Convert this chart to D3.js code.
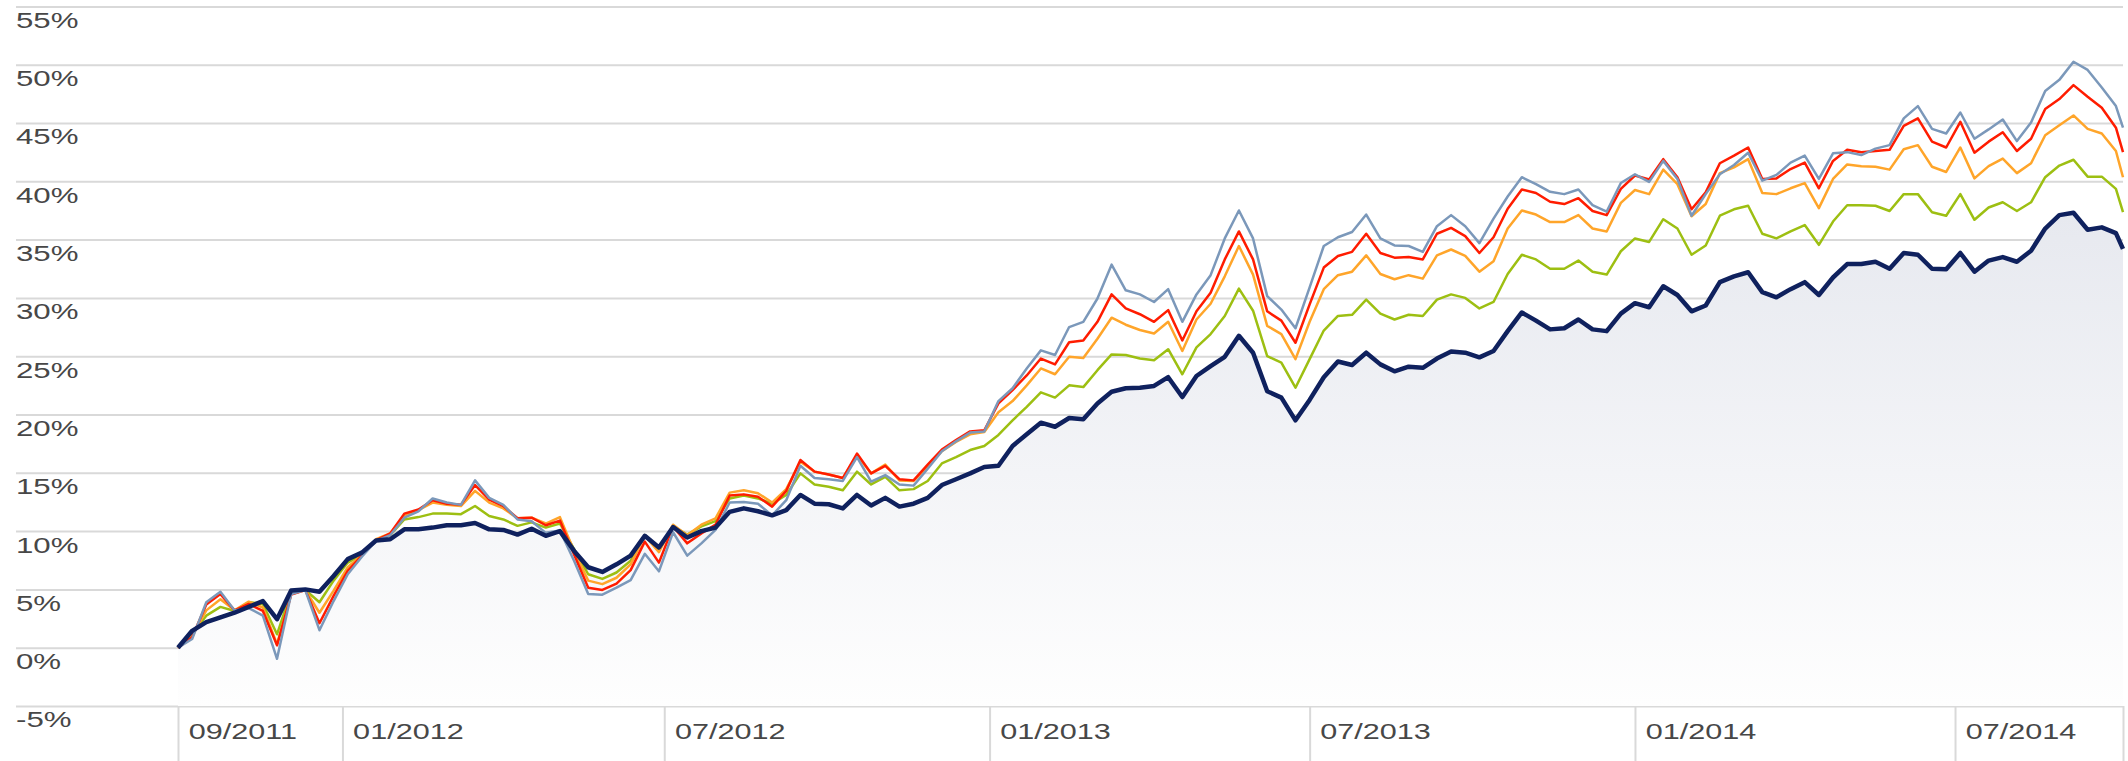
<!DOCTYPE html>
<html>
<head>
<meta charset="utf-8">
<script src="https://cdn.jsdelivr.net/npm/d3@7"></script>
<style>
  body { margin: 0; background: #fff; }
  svg { display: block; font-family: Roboto, "Noto Sans", sans-serif; }
</style>
</head>
<body>
<svg id="chart"></svg>
<script>
// x: one point every 8 days from the start, plus a last short step
const firstDate = "2011-09-30";
const stepDays = 8;
const lastDate = "2014-10-04";
const tickDates = ["2011-09-30", "2012-01-01", "2012-07-01", "2013-01-01", "2013-07-01", "2014-01-01", "2014-07-01"];
const yTicks = [-5, 0, 5, 10, 15, 20, 25, 30, 35, 40, 45, 50, 55];

// cumulative performance, %
const navy = [
  0, 1.45, 2.2, 2.6, 3.0, 3.5, 4.0, 2.45, 4.9, 5.0, 4.8, 6.15, 7.6, 8.15, 9.2, 9.3, 10.15, 10.15, 10.3, 10.5,
  10.5, 10.7, 10.15, 10.1, 9.7, 10.2, 9.6, 10.0, 8.3, 6.9, 6.5, 7.15, 7.9, 9.6, 8.6, 10.35,
  9.45, 10.0, 10.3, 11.65, 11.95, 11.7, 11.35, 11.8, 13.1, 12.35, 12.3, 11.95, 13.1, 12.2, 12.85, 12.1, 12.35, 12.85, 13.95, 14.45,
  14.95, 15.5, 15.6, 17.3, 18.3, 19.3, 18.95, 19.7, 19.6, 20.95, 21.95, 22.25, 22.3,
  22.45, 23.2, 21.5, 23.3, 24.15, 24.95, 26.75, 25.3, 22.0, 21.45, 19.5, 21.25, 23.2, 24.55, 24.25, 25.3, 24.3, 23.7, 24.1, 24.0,
  24.8, 25.4, 25.3, 24.9, 25.45, 27.15, 28.75, 28.05, 27.3, 27.4, 28.15, 27.3, 27.15, 28.65, 29.55,
  29.2, 31.0, 30.25, 28.85, 29.35, 31.35, 31.85, 32.2, 30.5, 30.05, 30.75, 31.35, 30.25, 31.75, 32.9, 32.9, 33.1, 32.5, 33.85, 33.7,
  32.5, 32.45, 33.85, 32.25, 33.2, 33.5, 33.1, 34.05, 35.95, 37.1, 37.3, 35.85, 36.05, 35.55, 34.2
];
const steel = [
  0, 0.75, 3.9, 4.8, 3.2, 3.4, 2.75, -0.95, 4.6, 4.95, 1.5, 4.0, 6.3, 7.8, 9.15, 9.65, 11.15, 11.7, 12.8, 12.45,
  12.25, 14.35, 12.85, 12.25, 11.0, 10.85, 9.85, 10.05, 7.45, 4.6, 4.55, 5.15, 5.8, 8.05, 6.55, 9.9,
  7.9, 8.95, 10.1, 12.45, 12.5, 12.35, 11.35, 12.65, 15.6, 14.55, 14.45, 14.3, 16.35, 14.25, 14.8, 14.0, 13.9, 15.35, 16.85, 17.7,
  18.45, 18.55, 21.15, 22.25, 23.95, 25.5, 25.1, 27.5, 27.95, 29.95, 32.85, 30.65, 30.3,
  29.65, 30.75, 27.95, 30.3, 31.95, 35.1, 37.5, 35.1, 30.15, 29.0, 27.4, 30.9, 34.45, 35.2, 35.65, 37.15, 35.1, 34.5, 34.45, 33.95,
  36.15, 37.1, 36.15, 34.7, 36.8, 38.7, 40.35, 39.75, 39.1, 38.9, 39.3, 37.95, 37.4, 39.85, 40.6,
  39.95, 41.75, 40.2, 37.05, 38.9, 40.6, 41.4, 42.45, 40.05, 40.55, 41.6, 42.2, 40.2, 42.4, 42.5, 42.25, 42.8, 43.1, 45.4, 46.45,
  44.5, 44.1, 45.9, 43.65, 44.45, 45.3, 43.45, 45.05, 47.75, 48.7, 50.25, 49.55, 48.05, 46.45, 44.6
];
const red = [
  0, 0.9, 3.7, 4.6, 3.2, 3.75, 3.15, 0.2, 4.55, 4.95, 2.1, 4.45, 6.6, 7.9, 9.2, 9.8, 11.5, 11.85, 12.65, 12.35,
  12.25, 13.95, 12.7, 12.15, 11.1, 11.15, 10.5, 10.9, 8.0, 5.15, 4.95, 5.5, 6.65, 9.1, 7.3, 10.4,
  8.95, 9.8, 10.55, 13.05, 13.15, 12.95, 12.1, 13.45, 16.1, 15.1, 14.85, 14.55, 16.65, 14.95, 15.6, 14.45, 14.35, 15.7, 17.0, 17.8,
  18.55, 18.65, 20.95, 22.1, 23.35, 24.8, 24.3, 26.2, 26.35, 27.95, 30.3, 29.1, 28.6,
  27.95, 28.95, 26.35, 28.85, 30.45, 33.3, 35.7, 33.3, 28.85, 28.05, 26.15, 29.45, 32.6, 33.6, 33.95, 35.5, 33.85, 33.45, 33.5, 33.3,
  35.5, 36.0, 35.3, 33.85, 35.2, 37.65, 39.3, 39.0, 38.25, 38.05, 38.55, 37.45, 37.1, 39.35, 40.5,
  40.15, 41.9, 40.35, 37.6, 39.05, 41.55, 42.2, 42.9, 40.2, 40.25, 41.05, 41.6, 39.4, 41.75, 42.7, 42.5, 42.6, 42.7, 44.75, 45.4,
  43.4, 42.9, 45.1, 42.45, 43.4, 44.2, 42.6, 43.65, 46.2, 47.05, 48.25, 47.25, 46.3, 44.6, 42.5
];
const orange = [
  0, 1.0, 3.2, 4.15, 3.2, 3.95, 3.45, 0.3, 4.6, 4.95, 3.0, 4.9, 6.9, 7.95, 9.3, 9.8, 11.3, 11.8, 12.45, 12.25,
  12.15, 13.45, 12.45, 11.95, 11.1, 11.15, 10.65, 11.2, 8.3, 5.75, 5.45, 6.0, 7.15, 9.6, 8.2, 10.55,
  9.65, 10.55, 11.1, 13.3, 13.5, 13.25, 12.45, 13.6, 15.95, 15.1, 14.85, 14.55, 16.5, 14.95, 15.7, 14.35, 14.3, 15.5, 16.85, 17.65,
  18.3, 18.5, 20.2, 21.15, 22.5, 23.95, 23.45, 24.95, 24.85, 26.5, 28.3, 27.7, 27.25,
  26.95, 27.95, 25.45, 28.15, 29.5, 31.85, 34.45, 32.0, 27.6, 26.9, 24.75, 27.95, 30.75, 31.95, 32.25, 33.65, 32.05, 31.6, 31.95, 31.65,
  33.65, 34.15, 33.6, 32.25, 33.15, 35.95, 37.5, 37.15, 36.5, 36.5, 37.1, 35.95, 35.7, 38.15, 39.25,
  38.9, 41.0, 39.75, 37.0, 38.05, 40.7, 41.2, 41.9, 39.0, 38.9, 39.4, 39.85, 37.7, 40.2, 41.45, 41.3, 41.25, 41.0, 42.75, 43.1,
  41.25, 40.8, 42.9, 40.25, 41.3, 41.95, 40.7, 41.55, 43.95, 44.8, 45.65, 44.5, 44.1, 42.6, 40.35
];
const green = [
  0, 1.15, 2.75, 3.5, 3.15, 3.9, 3.75, 1.15, 4.8, 4.95, 3.9, 5.75, 7.3, 8.0, 9.2, 9.65, 11.0, 11.2, 11.5, 11.5,
  11.45, 12.15, 11.3, 11.0, 10.45, 10.75, 10.3, 10.65, 8.45, 6.3, 5.9, 6.45, 7.45, 9.65, 8.45, 10.4,
  9.7, 10.4, 10.85, 12.8, 13.05, 12.8, 12.35, 13.1, 14.95, 14.0, 13.8, 13.5, 15.1, 14.0, 14.65, 13.5, 13.6, 14.3, 15.8, 16.35,
  16.95, 17.3, 18.25, 19.5, 20.65, 21.9, 21.45, 22.5, 22.35, 23.8, 25.15, 25.1, 24.8,
  24.65, 25.6, 23.45, 25.75, 26.9, 28.45, 30.8, 28.9, 25.0, 24.45, 22.3, 24.75, 27.2, 28.45, 28.55, 29.85, 28.65, 28.15, 28.55, 28.45,
  29.85, 30.3, 30.0, 29.1, 29.65, 32.05, 33.7, 33.3, 32.5, 32.5, 33.2, 32.25, 32.0, 34.0, 35.1,
  34.8, 36.75, 35.95, 33.7, 34.5, 37.05, 37.6, 37.9, 35.5, 35.1, 35.7, 36.25, 34.55, 36.55, 37.95, 37.95, 37.9, 37.45, 38.9, 38.9,
  37.35, 37.05, 38.9, 36.7, 37.75, 38.2, 37.45, 38.2, 40.35, 41.35, 41.85, 40.4, 40.4, 39.35, 37.35
];

// drawing order: bottom first, navy on top
const series = [
  {values: green, color: '#9dbf12', width: 2.5},
  {values: orange, color: '#ffa52a', width: 2.5},
  {values: red, color: '#ff1c00', width: 2.5},
  {values: steel, color: '#7b98ba', width: 2.5},
  {values: navy, color: '#0f215e', width: 4.5}
];

const width = 2128, height = 761;
const gridLeft = 16, plotLeft = 178, plotRight = 2123;
const yTop = 6.4, yBottom = 706;

const svg = d3.select('#chart').attr('width', width).attr('height', height);

const parse = d3.utcParse('%Y-%m-%d');
const start = parse(firstDate);
const end = parse(lastDate);
const dates = navy.map((_, i) => i === navy.length - 1 ? end : d3.utcDay.offset(start, i * stepDays));

const x = d3.scaleUtc().domain([start, end]).range([plotLeft, plotRight]);
const y = d3.scaleLinear().domain([-5, 55]).range([yBottom, yTop]);

// fill gradient under the navy line
const defs = svg.append('defs');
const grad = defs.append('linearGradient')
    .attr('id', 'areaFill')
    .attr('gradientUnits', 'userSpaceOnUse')
    .attr('x1', 0).attr('x2', 0)
    .attr('y1', y(55)).attr('y2', y(-5));
grad.append('stop').attr('offset', 0).attr('stop-color', '#dde0e9');
grad.append('stop').attr('offset', 1).attr('stop-color', '#fefefe');

// horizontal grid + y labels
const yAxis = d3.axisLeft(y)
    .tickValues(yTicks)
    .tickSize(-(plotRight - gridLeft))
    .tickFormat(d => d + '%');

const gy = svg.append('g')
    .attr('transform', `translate(${gridLeft},0)`)
    .call(yAxis);
gy.select('.domain').remove();
gy.selectAll('.tick line').attr('stroke', '#d9d9d9').attr('stroke-width', 2);
gy.selectAll('.tick text')
    .attr('x', 0)
    .attr('y', 21)
    .attr('dy', null)
    .attr('text-anchor', 'start')
    .attr('transform', 'scale(1.42,1)')
    .attr('fill', '#474747')
    .style('font-size', '22px');

// area + lines
svg.append('path')
    .datum(navy)
    .attr('fill', 'url(#areaFill)')
    .attr('d', d3.area()
        .x((d, i) => x(dates[i]))
        .y0(y(-5))
        .y1(d => y(d)));

const line = d3.line()
    .x((d, i) => x(dates[i]))
    .y(d => y(d));

svg.append('g')
    .selectAll('path')
    .data(series)
    .join('path')
    .attr('fill', 'none')
    .attr('stroke', d => d.color)
    .attr('stroke-width', d => d.width)
    .attr('stroke-linejoin', 'round')
    .attr('d', d => line(d.values));

// x axis: vertical tick separators and labels
const fmt = d3.utcFormat('%m/%Y');
const xAxis = d3.axisBottom(x)
    .tickValues(tickDates.map(parse).concat([end]))
    .tickSize(height - yBottom)
    .tickFormat(d => +d === +end ? '' : fmt(d));

const gx = svg.append('g')
    .attr('transform', `translate(0,${yBottom})`)
    .call(xAxis);
gx.select('.domain').remove();
gx.selectAll('.tick line').attr('stroke', '#d9d9d9').attr('stroke-width', 2);
gx.selectAll('.tick text')
    .attr('x', 7.5)
    .attr('y', 33)
    .attr('dy', null)
    .attr('text-anchor', 'start')
    .attr('transform', 'scale(1.36,1)')
    .attr('fill', '#474747')
    .style('font-size', '22.5px');
</script>
</body>
</html>
